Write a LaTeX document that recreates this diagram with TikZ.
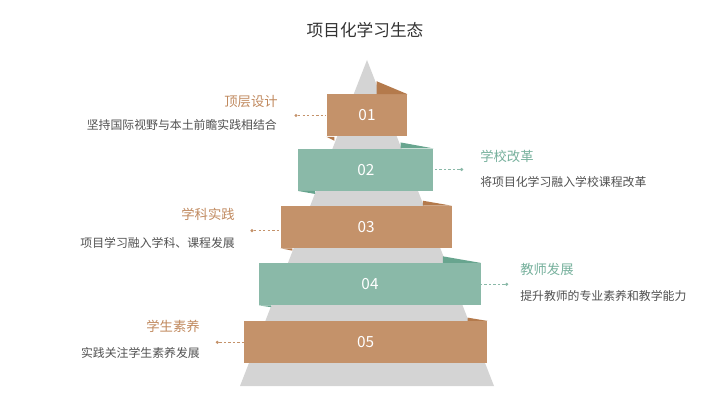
\documentclass[tikz,border=0pt]{standalone}
\usepackage{fontspec}
\setmainfont{Noto Sans CJK SC}
\usetikzlibrary{calc}
\definecolor{brownfront}{RGB}{196,146,106}
\definecolor{browndark}{RGB}{180,122,76}
\definecolor{greenfront}{RGB}{138,185,168}
\definecolor{greendark}{RGB}{104,165,143}
\definecolor{pyrgray}{RGB}{212,212,212}
\definecolor{headbrown}{RGB}{192,137,94}
\definecolor{headgreen}{RGB}{118,176,156}
\definecolor{desctext}{RGB}{80,80,80}
\tikzset{
  layerbox/.style={rectangle, inner sep=0pt, minimum height=31.5pt, text=white,
    font=\fontsize{11.5}{13}\selectfont},
  brownbox/.style={layerbox, fill=brownfront},
  greenbox/.style={layerbox, fill=greenfront},
  enddot/.style={circle, inner sep=0pt, minimum size=2.6pt},
  leader/.style={line width=0.55pt, dash pattern=on 1.8pt off 1.6pt},
  headtext/.style={inner sep=0pt, font=\fontsize{10}{12}\selectfont},
  desctext/.style={inner sep=0pt, text=desctext, font=\fontsize{8.9}{11}\selectfont},
}
\begin{document}
\begin{tikzpicture}[x=0.75pt,y=-0.75pt]
      \useasboundingbox (0,0) rectangle (720,416);
      \node[inner sep=0pt, text=black!80, font=\fontsize{12.5}{14}\selectfont] (title) at (365,30) {项目化学习生态};
      \fill[pyrgray] (367,60) -- (494,386) -- (240,386) -- cycle;
      \node[brownbox, minimum width=60.5pt] (b1) at (367,115.5) {01};
      \node[greenbox, minimum width=101.2pt] (b2) at (365.8,169.7) {02};
      \node[brownbox, minimum width=128.2pt] (b3) at (366.2,227) {03};
      \node[greenbox, minimum width=166pt] (b4) at (370,284.2) {04};
      \node[brownbox, minimum width=182.5pt] (b5) at (365.7,342.2) {05};
      \fill[browndark] ($(b1.north east)+(-31,-13)$) -- (b1.north east) -- ($(b1.north east)+(-31,0)$) -- cycle;
      \fill[browndark] (b1.south west) -- ($(b1.south west)+(8,4)$) -- ($(b1.south west)+(8,0)$) -- cycle;
      \fill[greendark] ($(b2.north east)+(-33,-6)$) -- (b2.north east) -- ($(b2.north east)+(-33,0)$) -- cycle;
      \fill[greendark] (b2.south west) -- ($(b2.south west)+(17,3)$) -- ($(b2.south west)+(17,0)$) -- cycle;
      \fill[browndark] ($(b3.north east)+(-29,-5)$) -- (b3.north east) -- ($(b3.north east)+(-29,0)$) -- cycle;
      \fill[browndark] (b3.south west) -- ($(b3.south west)+(12,2.4)$) -- ($(b3.south west)+(12,0)$) -- cycle;
      \fill[greendark] ($(b4.north east)+(-38,-6.6)$) -- (b4.north east) -- ($(b4.north east)+(-38,0)$) -- cycle;
      \fill[greendark] (b4.south west) -- ($(b4.south west)+(12,1.7)$) -- ($(b4.south west)+(12,0)$) -- cycle;
      \fill[browndark] ($(b5.north east)+(-20,-3.3)$) -- (b5.north east) -- ($(b5.north east)+(-20,0)$) -- cycle;
      \node[enddot, fill=brownfront] (d1) at (296,115.5) {};
      \node[enddot, fill=greenfront] (d2) at (461.7,169.5) {};
      \node[enddot, fill=brownfront] (d3) at (252,230.7) {};
      \node[enddot, fill=greenfront] (d4) at (506.7,284.3) {};
      \node[enddot, fill=brownfront] (d5) at (217.3,342.3) {};
      \draw[leader, draw=brownfront] (d1) -- (d1 -| b1.west);
      \draw[leader, draw=greenfront] (d2) -- (d2 -| b2.east);
      \draw[leader, draw=brownfront] (d3) -- (d3 -| b3.west);
      \draw[leader, draw=greenfront] (d4) -- (d4 -| b4.east);
      \draw[leader, draw=brownfront] (d5) -- (d5 -| b5.west);
      \node[headtext, text=headbrown, anchor=east] (h1) at (278,101.7) {顶层设计};
      \node[desctext, anchor=east] (t1) at (277,125) {坚持国际视野与本土前瞻实践相结合};
      \node[headtext, text=headgreen, anchor=west] (h2) at (480,156) {学校改革};
      \node[desctext, anchor=west] (t2) at (480,181.7) {将项目化学习融入学校课程改革};
      \node[headtext, text=headbrown, anchor=east] (h3) at (235,214) {学科实践};
      \node[desctext, anchor=east] (t3) at (235,242.7) {项目学习融入学科、课程发展};
      \node[headtext, text=headgreen, anchor=west] (h4) at (520,269) {教师发展};
      \node[desctext, anchor=west] (t4) at (520,295.7) {提升教师的专业素养和教学能力};
      \node[headtext, text=headbrown, anchor=east] (h5) at (200,326) {学生素养};
      \node[desctext, anchor=east] (t5) at (200,353.3) {实践关注学生素养发展};
    \end{tikzpicture}
\end{document}
